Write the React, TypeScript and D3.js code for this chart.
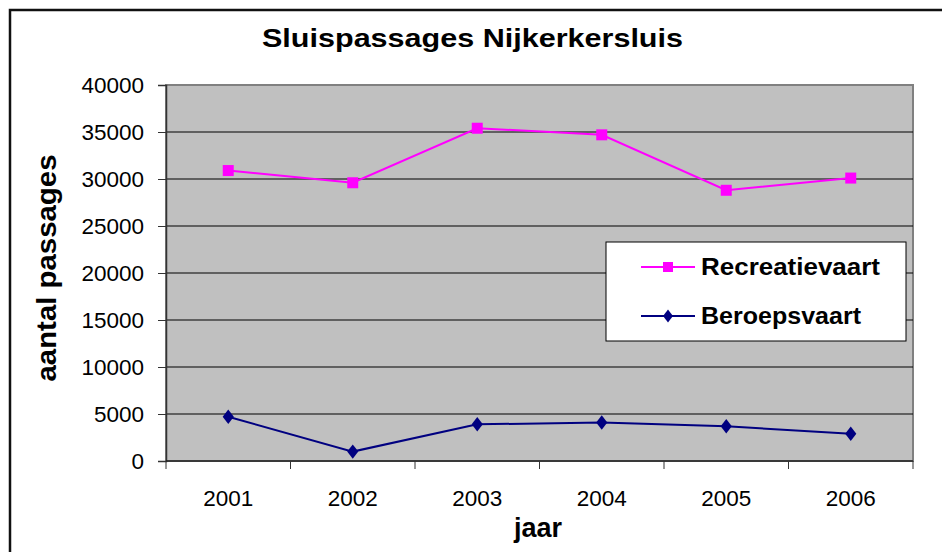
import React, { useRef, useEffect } from 'react';
import * as d3 from 'd3';

const years = ['2001', '2002', '2003', '2004', '2005', '2006'];
const recreatievaart = [30900, 29600, 35400, 34700, 28800, 30100];
const beroepsvaart = [4700, 1000, 3900, 4100, 3700, 2900];
const yTicks = [0, 5000, 10000, 15000, 20000, 25000, 30000, 35000, 40000];

const App: React.FC = () => {
  const ref = useRef<SVGSVGElement | null>(null);

  useEffect(() => {
    if (!ref.current) return;
    const svg = d3.select(ref.current);
    svg.selectAll('*').remove();

    const width = 942;
    const height = 552;
    const plot = { left: 166, right: 913, top: 85, bottom: 461 };
    const font = 'Liberation Sans, Arial, sans-serif';

    svg.attr('width', width).attr('height', height);

    // outer chart border (clipped at right / bottom like the original)
    svg.append('rect')
      .attr('x', 10).attr('y', 10)
      .attr('width', width).attr('height', height)
      .attr('fill', 'white')
      .attr('stroke', '#111').attr('stroke-width', 2.5);

    const x = d3.scaleBand<string>().domain(years).range([plot.left, plot.right]).padding(0);
    const y = d3.scaleLinear().domain([0, 40000]).range([plot.bottom, plot.top]);

    // plot area
    svg.append('rect')
      .attr('x', plot.left).attr('y', plot.top)
      .attr('width', plot.right - plot.left).attr('height', plot.bottom - plot.top)
      .attr('fill', '#C0C0C0')
      .attr('stroke', '#808080').attr('stroke-width', 2);

    // gridlines
    svg.append('g')
      .selectAll('line')
      .data(yTicks.filter(d => d > 0 && d < 40000))
      .enter()
      .append('line')
      .attr('x1', plot.left).attr('x2', plot.right)
      .attr('y1', d => y(d)).attr('y2', d => y(d))
      .attr('stroke', '#000').attr('stroke-width', 1.2);

    // y axis
    const yAxis = svg.append('g').attr('transform', `translate(${plot.left},0)`)
      .call(d3.axisLeft(y).tickValues(yTicks).tickSize(8).tickPadding(14).tickFormat(d3.format('d')));
    yAxis.select('.domain').attr('stroke', '#333').attr('stroke-width', 1.5);
    yAxis.selectAll('.tick line').attr('stroke', '#333');
    yAxis.selectAll('.tick text')
      .attr('font-family', font).attr('font-size', 22.5)
      .attr('fill', '#000');

    // x axis
    const xAxisY = plot.bottom;
    svg.append('line')
      .attr('x1', plot.left).attr('x2', plot.right)
      .attr('y1', xAxisY).attr('y2', xAxisY)
      .attr('stroke', '#222').attr('stroke-width', 1.5);
    const edges = years.map(d => x(d) as number).concat([plot.right]);
    svg.append('g').selectAll('line')
      .data(edges)
      .enter()
      .append('line')
      .attr('x1', d => d).attr('x2', d => d)
      .attr('y1', xAxisY).attr('y2', xAxisY + 8)
      .attr('stroke', '#333');
    svg.append('g').selectAll('text')
      .data(years)
      .enter()
      .append('text')
      .attr('x', d => (x(d) as number) + x.bandwidth() / 2)
      .attr('y', 506)
      .attr('text-anchor', 'middle')
      .attr('font-family', font).attr('font-size', 22.5)
      .text(d => d);

    const cx = (i: number) => (x(years[i]) as number) + x.bandwidth() / 2;
    const line = d3.line<number>().x((_, i) => cx(i)).y(d => y(d));

    // Recreatievaart
    svg.append('path')
      .datum(recreatievaart)
      .attr('d', line)
      .attr('fill', 'none').attr('stroke', '#FF00FF').attr('stroke-width', 2);
    svg.append('g').selectAll('rect')
      .data(recreatievaart)
      .enter()
      .append('rect')
      .attr('x', (_, i) => cx(i) - 5.5).attr('y', d => y(d) - 5.5)
      .attr('width', 11).attr('height', 11)
      .attr('fill', '#FF00FF');

    // Beroepsvaart
    const diamond = d3.symbol().type(d3.symbolDiamond2).size(110);
    svg.append('path')
      .datum(beroepsvaart)
      .attr('d', line)
      .attr('fill', 'none').attr('stroke', '#000080').attr('stroke-width', 2);
    svg.append('g').selectAll('path')
      .data(beroepsvaart)
      .enter()
      .append('path')
      .attr('d', diamond)
      .attr('transform', (d, i) => `translate(${cx(i)},${y(d)}) scale(0.85,1.1)`)
      .attr('fill', '#000080');

    // legend
    const legend = svg.append('g');
    legend.append('rect')
      .attr('x', 606).attr('y', 242).attr('width', 300).attr('height', 99)
      .attr('fill', 'white').attr('stroke', '#000').attr('stroke-width', 1);
    const legendItems = [
      { name: 'Recreatievaart', color: '#FF00FF', marker: 'square', textLen: 179 },
      { name: 'Beroepsvaart', color: '#000080', marker: 'diamond', textLen: 160 },
    ];
    legendItems.forEach((item, i) => {
      const ly = 267 + i * 49;
      legend.append('line')
        .attr('x1', 641).attr('x2', 695).attr('y1', ly).attr('y2', ly)
        .attr('stroke', item.color).attr('stroke-width', 2);
      if (item.marker === 'square') {
        legend.append('rect')
          .attr('x', 663).attr('y', ly - 5).attr('width', 10).attr('height', 10)
          .attr('fill', item.color);
      } else {
        legend.append('path')
          .attr('d', diamond)
          .attr('transform', `translate(668,${ly}) scale(0.75,1)`)
          .attr('fill', item.color);
      }
      legend.append('text')
        .attr('x', 701).attr('y', ly + 8)
        .attr('font-family', font).attr('font-size', 23).attr('font-weight', 'bold')
        .attr('textLength', item.textLen).attr('lengthAdjust', 'spacingAndGlyphs')
        .text(item.name);
    });

    // title
    svg.append('text')
      .attr('x', 262).attr('y', 47)
      .attr('font-family', font).attr('font-size', 26).attr('font-weight', 'bold')
      .attr('textLength', 421).attr('lengthAdjust', 'spacingAndGlyphs')
      .text('Sluispassages Nijkerkersluis');

    // axis titles
    svg.append('text')
      .attr('x', 538).attr('y', 537)
      .attr('text-anchor', 'middle')
      .attr('font-family', font).attr('font-size', 27).attr('font-weight', 'bold')
      .text('jaar');

    svg.append('text')
      .attr('transform', 'translate(56,268) rotate(-90)')
      .attr('text-anchor', 'middle')
      .attr('font-family', font).attr('font-size', 27).attr('font-weight', 'bold')
      .attr('textLength', 227).attr('lengthAdjust', 'spacingAndGlyphs')
      .text('aantal passages');
  }, []);

  return <svg ref={ref} style={{ position: 'absolute', left: 0, top: 0 }}></svg>;
};

export default App;
